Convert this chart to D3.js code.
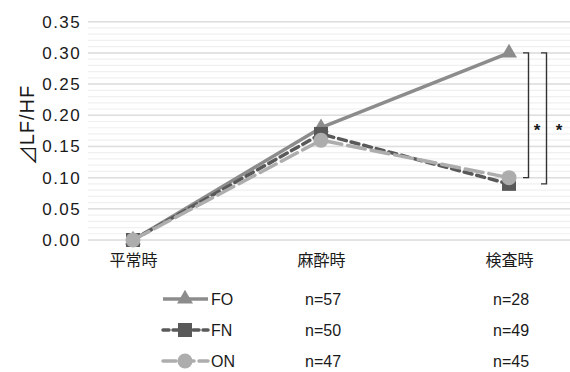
<!DOCTYPE html>
<html>
<head>
<meta charset="utf-8">
<script src="https://cdn.jsdelivr.net/npm/d3@7"></script>
<style>
  html, body { margin: 0; padding: 0; background: #fff; }
  svg { display: block; }
  text { font-family: "Liberation Sans", Arial, sans-serif; fill: #1a1a1a; }
</style>
</head>
<body>
<svg id="chart" width="570" height="372"></svg>
<script>
// Phases of measurement
const categories = ["平常時", "麻酔時", "検査時"];
// ⊿LF/HF by group
const seriesNames = ["FO", "FN", "ON"];
const valuesFO = [0, 0.18, 0.30];
const valuesFN = [0, 0.17, 0.09];
const valuesON = [0, 0.16, 0.10];
// Group sizes at 麻酔時 and 検査時
const countsFO = ["n=57", "n=28"];
const countsFN = ["n=50", "n=49"];
const countsON = ["n=47", "n=45"];
const yTicks = [0, 0.05, 0.10, 0.15, 0.20, 0.25, 0.30, 0.35];
const yTitleSymbol = "⊿";
const yTitleText = "LF/HF";
// Significance brackets: [upper value, lower value]
const brackets = [[0.30, 0.10], [0.30, 0.09]];

const svg = d3.select("#chart");

const x = d3.scalePoint().domain(categories).range([133, 509]);
const y = d3.scaleLinear().domain([0, 0.35]).range([240, 21.7]);

// Minor gridlines every 0.01, major every 0.05
const minor = d3.range(0, 0.3501, 0.01);
svg.append("g").selectAll("line").data(minor).join("line")
  .attr("x1", 88).attr("x2", 570)
  .attr("y1", d => y(d)).attr("y2", d => y(d))
  .attr("stroke", "#f0f0f0").attr("stroke-width", 1.2);
svg.append("g").selectAll("line").data(yTicks).join("line")
  .attr("x1", 88).attr("x2", 570)
  .attr("y1", d => y(d)).attr("y2", d => y(d))
  .attr("stroke", "#dedede").attr("stroke-width", 1.5);

// Y axis labels
const yAxis = d3.axisLeft(y).tickValues(yTicks).tickFormat(d3.format(".2f")).tickSize(0).tickPadding(0);
const gy = svg.append("g").attr("transform", "translate(81,0)").call(yAxis);
gy.select(".domain").remove();
gy.selectAll("text")
  .attr("font-size", 17).attr("letter-spacing", "1.4px")
  .style("font-family", "'Liberation Sans', Arial, sans-serif").style("fill", "#1a1a1a");

// Y title
const title = svg.append("text")
  .attr("transform", "translate(27,125) rotate(-90)")
  .attr("text-anchor", "middle").attr("dominant-baseline", "central")
  .attr("font-size", 20);
title.append("tspan").style("font-family", "'Noto Sans CJK JP', sans-serif").text(yTitleSymbol);
title.append("tspan").attr("letter-spacing", "1px").text(yTitleText);

// Category labels
const xAxis = d3.axisBottom(x).tickSize(0).tickPadding(0);
const gx = svg.append("g").attr("transform", "translate(0,253)").call(xAxis);
gx.select(".domain").remove();
gx.selectAll("text")
  .attr("font-size", 16).attr("dy", "0.8em")
  .style("font-family", "'Noto Sans CJK JP', sans-serif").style("fill", "#1a1a1a");

const styles = {
  FO: { color: "#8c8c8c", dash: null, cap: "butt", marker: "triangle" },
  FN: { color: "#595959", dash: "8,5", cap: "round", marker: "square" },
  ON: { color: "#adadad", dash: "18,6", cap: "round", marker: "circle" }
};
const seriesData = { FO: valuesFO, FN: valuesFN, ON: valuesON };

const line = d3.line().x((d, i) => x(categories[i])).y(d => y(d));

function drawMarker(g, type, cx, cy, color) {
  if (type === "triangle") {
    g.append("path")
      .attr("d", d3.symbol().type(d3.symbolTriangle).size(110)())
      .attr("transform", `translate(${cx},${cy})`)
      .attr("fill", color);
  } else if (type === "square") {
    g.append("rect").attr("x", cx - 7).attr("y", cy - 7)
      .attr("width", 14).attr("height", 14).attr("fill", color);
  } else {
    g.append("circle").attr("cx", cx).attr("cy", cy).attr("r", 7.5).attr("fill", color);
  }
}

seriesNames.forEach(name => {
  const s = styles[name];
  const g = svg.append("g");
  g.append("path")
    .datum(seriesData[name])
    .attr("d", line)
    .attr("fill", "none")
    .attr("stroke", s.color)
    .attr("stroke-width", 3.5)
    .attr("stroke-linecap", s.cap)
    .attr("stroke-linejoin", "round")
    .attr("stroke-dasharray", s.dash);
  seriesData[name].forEach((v, i) => drawMarker(g, s.marker, x(categories[i]), y(v), s.color));
});

// Significance brackets
const bx = [523, 541];
const stars = [537, 559];
brackets.forEach((b, i) => {
  const top = y(b[0]), bot = y(b[1]);
  svg.append("path")
    .attr("d", `M${bx[i]},${top}H${bx[i] + 5.5}V${bot}H${bx[i]}`)
    .attr("fill", "none").attr("stroke", "#333").attr("stroke-width", 1.4);
  svg.append("text")
    .attr("x", stars[i]).attr("y", 136)
    .attr("text-anchor", "middle").attr("font-size", 17).attr("font-weight", "bold")
    .text("*");
});

// Legend with group sizes
const legendRows = [
  { name: "FO", counts: countsFO, y: 299 },
  { name: "FN", counts: countsFN, y: 330 },
  { name: "ON", counts: countsON, y: 361 }
];
legendRows.forEach(r => {
  const s = styles[r.name];
  const g = svg.append("g");
  let dash = s.dash;
  if (r.name === "FN") dash = "6,4";
  if (r.name === "ON") dash = "13,5";
  g.append("line")
    .attr("x1", 163).attr("x2", 208).attr("y1", r.y).attr("y2", r.y)
    .attr("stroke", s.color).attr("stroke-width", 3.5)
    .attr("stroke-linecap", s.cap).attr("stroke-dasharray", dash);
  drawMarker(g, s.marker, 185, r.y, s.color);
  g.append("text").attr("x", 211).attr("y", r.y).attr("dominant-baseline", "central")
    .attr("font-size", 16).text(r.name);
  g.append("text").attr("x", 305).attr("y", r.y).attr("dominant-baseline", "central")
    .attr("font-size", 16).text(r.counts[0]);
  g.append("text").attr("x", 493).attr("y", r.y).attr("dominant-baseline", "central")
    .attr("font-size", 16).text(r.counts[1]);
});
</script>
</body>
</html>
